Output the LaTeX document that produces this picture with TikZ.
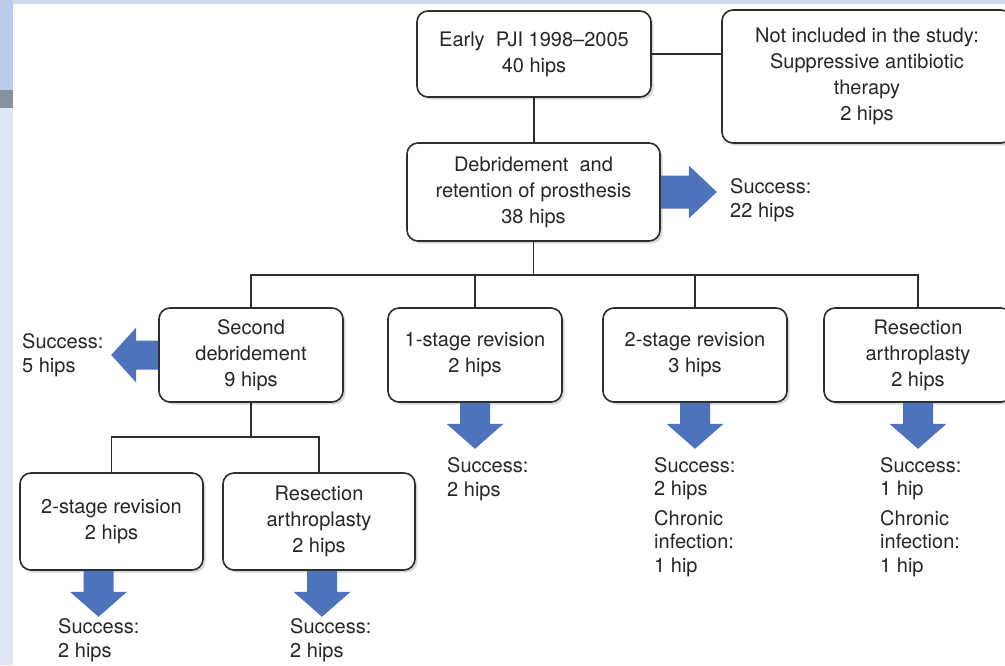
\documentclass[tikz,border=0pt]{standalone}
\usepackage{fontspec}
\setmainfont{TeX Gyre Heros}
\usetikzlibrary{calc,shadows}
\definecolor{blockblue}{RGB}{79,115,187}
\definecolor{edgegray}{RGB}{45,45,45}
\definecolor{framebg}{RGB}{205,219,240}
\tikzset{
	box/.style={draw=edgegray, line width=1.6pt, rounded corners=11pt, fill=white, align=center, inner sep=0pt,
		font=\fontsize{20}{26}\selectfont, text=black!85,
		drop shadow={shadow xshift=2.5pt, shadow yshift=-2.5pt, opacity=0.3}},
	freetext/.style={align=left, anchor=west, inner sep=0pt, font=\fontsize{20}{23.5}\selectfont, text=black!85},
	link/.style={draw=edgegray, line width=1.6pt},
}
\def\blockdown(#1){\fill[blockblue] ($(#1)+(-15,0)$) -- ++(30,0) -- ++(0,21) -- ++(13.5,0) -- ++(-28.5,25) -- ++(-28.5,-25) -- ++(13.5,0) -- cycle;}
\def\blockright(#1){\fill[blockblue] ($(#1)+(0,-16.5)$) -- ++(28,0) -- ++(0,-10) -- ++(28,26.5) -- ++(-28,26.5) -- ++(0,-10) -- ++(-28,0) -- cycle;}
\def\blockleft(#1){\fill[blockblue] ($(#1)+(0,-14.5)$) -- ++(-22,0) -- ++(0,-13) -- ++(-25,27.5) -- ++(25,27.5) -- ++(0,-13) -- ++(22,0) -- cycle;}

\begin{document}
\begin{tikzpicture}[x=1pt, y=-1pt]
			%%%%% START %%%%%
			
			\useasboundingbox (0,0) rectangle (1005,665);
			\fill[framebg] (0,0) rectangle (1005,665);
			\fill[color={rgb,255:red,188;green,205;blue,234}] (0,0) rectangle (13,90);
			\fill[color={rgb,255:red,135;green,145;blue,160}] (0,90) rectangle (13,108);
			\fill[color={rgb,255:red,222;green,231;blue,243}] (0,108) rectangle (13,665);
			\fill[white] (13,4) rectangle (1005,665);
			
			\node[box, minimum width=234pt, minimum height=86pt] (early) at (534,54) {Early\ \ PJI 1998--2005\\40 hips};
			\node[box, minimum width=290pt, minimum height=133pt] (excl) at (867,76.5) {Not included in the study:\\Suppressive antibiotic\\therapy\\2 hips};
			\node[box, minimum width=253pt, minimum height=98pt] (dair) at (533.5,192) {Debridement\ \ and\\retention of prosthesis\\38 hips};
			
			\node[box, minimum width=184pt, minimum height=94pt] (second) at (251,355) {Second\\debridement\\9 hips};
			\node[box, minimum width=174pt, minimum height=94pt] (one) at (475,355) {1-stage revision\\2 hips};
			\node[box, minimum width=184pt, minimum height=94pt] (twoA) at (695,355) {2-stage revision\\3 hips};
			\node[box, minimum width=188pt, minimum height=94pt] (resA) at (918,355) {Resection\\arthroplasty\\2 hips};
			
			\node[box, minimum width=183pt, minimum height=97pt] (twoB) at (111.5,521.5) {2-stage revision\\2 hips};
			\node[box, minimum width=192pt, minimum height=97pt] (resB) at (319,521.5) {Resection\\arthroplasty\\2 hips};
			
			\draw[link] (early.east) -- (early.east -| excl.west);
			\draw[link] (early.south) -- (early.south |- dair.north);
			
			\coordinate (bar) at (535,275);
			\draw[link] (dair.south) -- (dair.south |- bar);
			\draw[link] (second.north) |- (bar) -| (resA.north);
			\draw[link] (one.north) -- (one.north |- bar);
			\draw[link] (twoA.north) -- (twoA.north |- bar);
			
			\coordinate (subbar) at (251,437);
			\draw[link] (second.south) -- (second.south |- subbar);
			\draw[link] (twoB.north) |- (subbar) -| (resB.north);
			
			\blockright(dair.east)
			\blockleft(second.west)
			\blockdown(one.south)
			\blockdown(twoA.south)
			\blockdown(resA.south)
			\blockdown([xshift=-13pt]twoB.south)
			\blockdown([xshift=3pt]resB.south)
			
			\node[freetext] (okdair) at (730,200) {Success:\\22 hips};
			\node[freetext] (oksecond) at (22,355) {Success:\\5 hips};
			\node[freetext] (okone) at (447,479) {Success:\\2 hips};
			\node[freetext] (oktwoA) at (654,517) {Success:\\2 hips\\[6pt]Chronic\\infection:\\1 hip};
			\node[freetext] (okresA) at (880,517) {Success:\\1 hip\\[6pt]Chronic\\infection:\\1 hip};
			\node[freetext] (oktwoB) at (58,640) {Success:\\2 hips};
			\node[freetext] (okresB) at (290,640) {Success:\\2 hips};
			
			%%%%% END %%%%%
\end{tikzpicture}
\end{document}
